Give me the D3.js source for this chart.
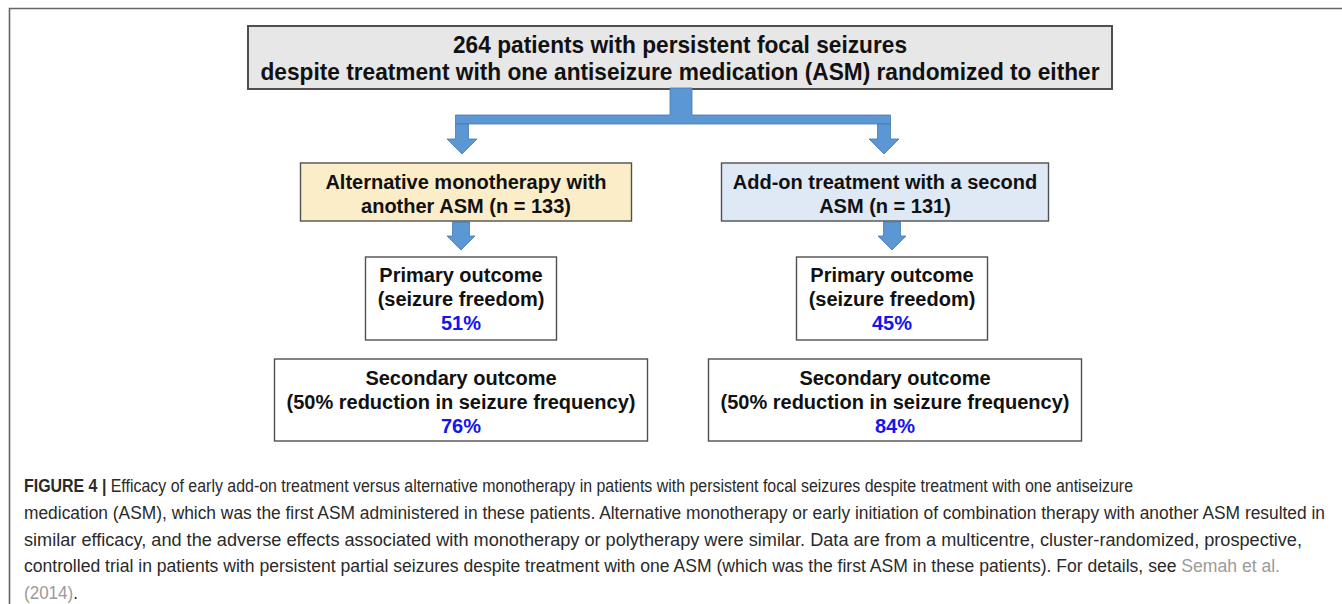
<!DOCTYPE html>
<html>
<head>
<meta charset="utf-8">
<script src="https://cdn.jsdelivr.net/npm/d3@7"></script>
<style>
    body { margin: 0; background: #fff; }
    svg { display: block; }
</style>
</head>
<body>
<svg id="svg"></svg>
<script>
// data
const headerLines = ["264 patients with persistent focal seizures",
    "despite treatment with one antiseizure medication (ASM) randomized to either"];
const arms = ["mono", "addon"];
const armLabels = [["Alternative monotherapy with", "another ASM"], ["Add-on treatment with a second", "ASM"]];
const armN = [133, 131];
const primaryLabel = ["Primary outcome", "(seizure freedom)"];
const primaryOutcome = [51, 45];
const secondaryLabel = ["Secondary outcome", "(50% reduction in seizure frequency)"];
const secondaryOutcome = [76, 84];
const captionLines = [
    [["FIGURE 4 | ", "b"], ["Efficacy of early add-on treatment versus alternative monotherapy in patients with persistent focal seizures despite treatment with one antiseizure", "n"]],
    [["medication (ASM), which was the first ASM administered in these patients. Alternative monotherapy or early initiation of combination therapy with another ASM resulted in", "n"]],
    [["similar efficacy, and the adverse effects associated with monotherapy or polytherapy were similar. Data are from a multicentre, cluster-randomized, prospective,", "n"]],
    [["controlled trial in patients with persistent partial seizures despite treatment with one ASM (which was the first ASM in these patients). For details, see ", "n"], ["Semah et al.", "l"]],
    [["(2014)", "l"], [".", "n"]]
];

// layout
const W = 1342, H = 604;
const ARROW_FILL = "#5b97d3";
const ARROW_STROKE = "#4779ad";
const BOX_STROKE = "#505050";
const FONT = "'Liberation Sans', Arial, Helvetica, sans-serif";

const svg = d3.select("#svg").attr("width", W).attr("height", H);

// column centres for the two arms
const colX = d3.scaleOrdinal().domain(arms).range([462, 886]);
const armBox = { w: [331, 327], y: 163, h: 58, fill: ["#fcedc9", "#dee9f5"] };
const primBox = { w: 191, y: 257, h: 83 };
const secBox = { w: 373, y: 359, h: 82 };
const captionLen = [1109, 1301, 1278, 1256, 54];
const captionY = d3.scalePoint().domain(d3.range(captionLines.length)).range([492, 599]);

// frame
svg.append("path")
    .attr("d", `M9.5,${H} L9.5,8.5 L${W},8.5`)
    .attr("fill", "none")
    .attr("stroke", "#666")
    .attr("stroke-width", 1.6);

function downArrow(g, cx, y0, y1, shaftW, headW, headH) {
    const p = d3.path();
    p.moveTo(cx - shaftW / 2, y0);
    p.lineTo(cx + shaftW / 2, y0);
    p.lineTo(cx + shaftW / 2, y1 - headH);
    p.lineTo(cx + headW / 2, y1 - headH);
    p.lineTo(cx, y1);
    p.lineTo(cx - headW / 2, y1 - headH);
    p.lineTo(cx - shaftW / 2, y1 - headH);
    p.closePath();
    g.append("path")
        .attr("d", p.toString())
        .attr("fill", ARROW_FILL)
        .attr("stroke", ARROW_STROKE)
        .attr("stroke-width", 0.8);
}

function box(x, y, w, h, fill, sw) {
    svg.append("rect")
        .attr("x", x).attr("y", y)
        .attr("width", w).attr("height", h)
        .attr("fill", fill)
        .attr("stroke", BOX_STROKE)
        .attr("stroke-width", sw || 1.4);
}

function lines(cx, ys, items) {
    items.forEach((it, i) => {
        svg.append("text")
            .attr("x", cx)
            .attr("y", ys[i])
            .attr("text-anchor", "middle")
            .style("font-family", FONT)
            .style("font-weight", "bold")
            .style("font-size", "20px")
            .style("fill", it.color || "#111")
            .text(it.text);
    });
}

// header box
box(248, 26, 864, 63, "#e7e7e7", 2);
const headerLen = [454, 839];
headerLines.forEach((t, i) => {
    svg.append("text")
        .attr("x", 680)
        .attr("y", 53 + i * 27)
        .attr("text-anchor", "middle")
        .attr("textLength", headerLen[i])
        .attr("lengthAdjust", "spacingAndGlyphs")
        .style("font-family", FONT)
        .style("font-weight", "bold")
        .style("font-size", "24.5px")
        .style("fill", "#111")
        .text(t);
});

// split connector
const gArrows = svg.append("g");
const leftX = colX(arms[0]), rightX = colX(arms[1]) - 2;
gArrows.append("path")
    .attr("d", `M670,88 L692,88 L692,115 L${rightX + 6.5},115 L${rightX + 6.5},124 L${leftX + 6.5},124 L${leftX - 6.5},124 L${leftX - 6.5},115 L670,115 Z`)
    .attr("fill", ARROW_FILL)
    .attr("stroke", ARROW_STROKE)
    .attr("stroke-width", 0.8);
downArrow(gArrows, leftX, 124, 154, 13, 30, 15);
downArrow(gArrows, rightX, 124, 154, 13, 30, 15);

arms.forEach((a, i) => {
    const cx = colX(a) + (i === 0 ? 4 : -1);
    // arm box
    box(cx - armBox.w[i] / 2, armBox.y, armBox.w[i], armBox.h, armBox.fill[i]);
    lines(cx, [189, 213], [
        { text: armLabels[i][0] },
        { text: `${armLabels[i][1]} (n = ${armN[i]})` }
    ]);

    // arrow to primary outcome
    const ax = colX(a) + (i === 0 ? -1 : 6);
    downArrow(gArrows, ax, 222, 250, 17, 28, 14);

    // primary outcome
    const px = colX(a) + (i === 0 ? -1 : 6);
    box(px - primBox.w / 2, primBox.y, primBox.w, primBox.h, "#fff");
    lines(px, [282, 306, 330], [
        { text: primaryLabel[0] },
        { text: primaryLabel[1] },
        { text: `${primaryOutcome[i]}%`, color: "#1414f0" }
    ]);

    // secondary outcome
    const sx = colX(a) + (i === 0 ? -1 : 9);
    box(sx - secBox.w / 2, secBox.y, secBox.w, secBox.h, "#fff");
    lines(sx, [385, 409, 433], [
        { text: secondaryLabel[0] },
        { text: secondaryLabel[1] },
        { text: `${secondaryOutcome[i]}%`, color: "#1414f0" }
    ]);
});

// caption
captionLines.forEach((segs, i) => {
    const t = svg.append("text")
        .attr("x", 24)
        .attr("y", captionY(i))
        .attr("textLength", captionLen[i])
        .attr("lengthAdjust", "spacingAndGlyphs")
        .style("font-family", "'Liberation Sans', Arial, sans-serif")
        .style("font-size", "17.5px");
    segs.forEach(s => {
        t.append("tspan")
            .style("font-weight", s[1] === "b" ? "bold" : "normal")
            .style("fill", s[1] === "l" ? "#9a9a9a" : "#2a2a2a")
            .text(s[0]);
    });
});
</script>
</body>
</html>
